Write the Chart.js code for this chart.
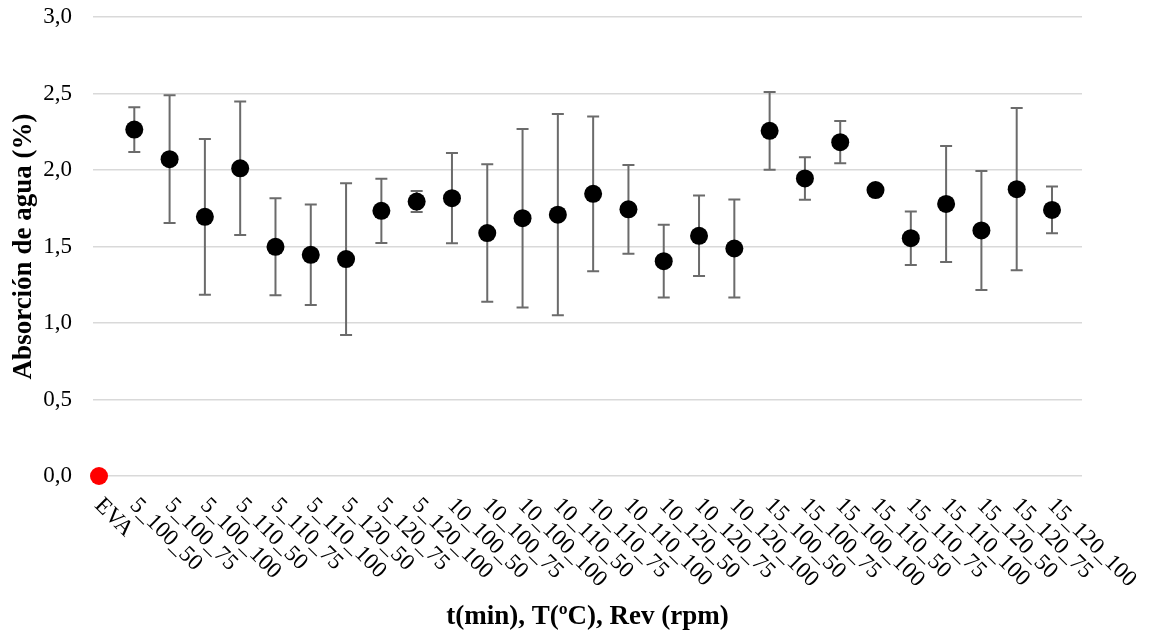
<!DOCTYPE html>
<html>
<head>
<meta charset="utf-8">
<script src="https://cdn.jsdelivr.net/npm/chart.js@4/dist/chart.umd.min.js"></script>
<style>
  html, body { margin: 0; padding: 0; background: #ffffff; }
  #wrap { width: 1150px; height: 637px; position: relative; }
</style>
</head>
<body>
<div id="wrap"><canvas id="chart"></canvas></div>
<script>
// Processing conditions: t(min)_T(ºC)_Rev(rpm)
const categories = [
  'EVA',
  '5_100_50', '5_100_75', '5_100_100',
  '5_110_50', '5_110_75', '5_110_100',
  '5_120_50', '5_120_75', '5_120_100',
  '10_100_50', '10_100_75', '10_100_100',
  '10_110_50', '10_110_75', '10_110_100',
  '10_120_50', '10_120_75', '10_120_100',
  '15_100_50', '15_100_75', '15_100_100',
  '15_110_50', '15_110_75', '15_110_100',
  '15_120_50', '15_120_75', '15_120_100'
];

// Mean water absorption (%)
const absorption = [
  0.00,
  2.264, 2.071, 1.694,
  2.011, 1.498, 1.446,
  1.418, 1.733, 1.794,
  1.816, 1.588, 1.685,
  1.708, 1.844, 1.743,
  1.404, 1.570, 1.487,
  2.256, 1.945, 2.182,
  1.869, 1.554, 1.778,
  1.605, 1.875, 1.739
];

// Standard deviation of each mean
const deviation = [
  0.000,
  0.146, 0.417, 0.509,
  0.436, 0.317, 0.328,
  0.496, 0.210, 0.069,
  0.295, 0.449, 0.583,
  0.658, 0.506, 0.290,
  0.238, 0.263, 0.321,
  0.254, 0.139, 0.138,
  0.030, 0.175, 0.379,
  0.389, 0.531, 0.153
];

const yTickLabels = ['0,0', '0,5', '1,0', '1,5', '2,0', '2,5', '3,0'];

const serif = "'Liberation Serif', 'Times New Roman', serif";

// Vertical error bars with caps, drawn beneath the markers
const errorBars = {
  id: 'errorBars',
  beforeDatasetsDraw(chart) {
    const { ctx, scales: { x, y } } = chart;
    ctx.save();
    ctx.strokeStyle = '#6b6b6b';
    ctx.lineWidth = 2;
    const cap = 6;
    absorption.forEach((m, i) => {
      const sd = deviation[i];
      if (!sd) return;
      const px = x.getPixelForValue(i);
      const top = y.getPixelForValue(m + sd);
      const bot = y.getPixelForValue(m - sd);
      ctx.beginPath();
      ctx.moveTo(px, top); ctx.lineTo(px, bot);
      ctx.moveTo(px - cap, top); ctx.lineTo(px + cap, top);
      ctx.moveTo(px - cap, bot); ctx.lineTo(px + cap, bot);
      ctx.stroke();
    });
    ctx.restore();
  }
};

// Category labels slanted downwards to the right below the axis
const slantedLabels = {
  id: 'slantedLabels',
  afterDraw(chart) {
    const { ctx, chartArea, scales: { x } } = chart;
    ctx.save();
    ctx.fillStyle = '#000000';
    ctx.font = "23px " + serif;
    ctx.textAlign = 'left';
    ctx.textBaseline = 'middle';
    categories.forEach((lab, i) => {
      const px = x.getPixelForValue(i);
      ctx.save();
      ctx.translate(px - 1, chartArea.bottom + 26);
      ctx.rotate(Math.PI / 4);
      ctx.fillText(lab, 0, 0);
      ctx.restore();
    });
    ctx.restore();
  }
};

new Chart(document.getElementById('chart'), {
  type: 'scatter',
  data: {
    datasets: [{
      data: absorption.map((v, i) => ({ x: i, y: v })),
      clip: false,
      pointRadius: 9,
      pointHoverRadius: 9,
      pointBorderWidth: 0,
      pointBackgroundColor: absorption.map((v, i) => i === 0 ? '#ff0000' : '#000000'),
      pointBorderColor: absorption.map((v, i) => i === 0 ? '#ff0000' : '#000000'),
      showLine: false
    }]
  },
  options: {
    responsive: true,
    maintainAspectRatio: false,
    animation: false,
    layout: { padding: { top: 0, right: 68, bottom: 0, left: 0 } },
    plugins: {
      legend: { display: false },
      tooltip: { enabled: false }
    },
    scales: {
      x: {
        type: 'linear',
        min: -0.17,
        max: 27.85,
        grid: { display: false },
        border: { display: false },
        ticks: { display: false },
        afterFit(scale) { scale.height = 161; },
        title: {
          display: true,
          text: 't(min), T(ºC), Rev (rpm)',
          color: '#000000',
          font: { family: serif, size: 27, weight: 'bold' },
          padding: { top: 0, bottom: 4 }
        }
      },
      y: {
        min: 0,
        max: 3,
        grid: { color: '#d9d9d9', lineWidth: 1.5, drawTicks: false },
        border: { display: false },
        afterFit(scale) {
          scale.width = 93;
          scale.paddingTop = 17;
          scale.paddingBottom = 0;
        },
        ticks: {
          stepSize: 0.5,
          padding: 21,
          color: '#000000',
          font: { family: serif, size: 23 },
          callback: (v) => yTickLabels[Math.round(v * 2)]
        },
        title: {
          display: true,
          text: 'Absorción de agua (%)',
          color: '#000000',
          font: { family: serif, size: 27, weight: 'bold' },
          padding: { top: 8, bottom: 0 }
        }
      }
    }
  },
  plugins: [errorBars, slantedLabels]
});
</script>
</body>
</html>
